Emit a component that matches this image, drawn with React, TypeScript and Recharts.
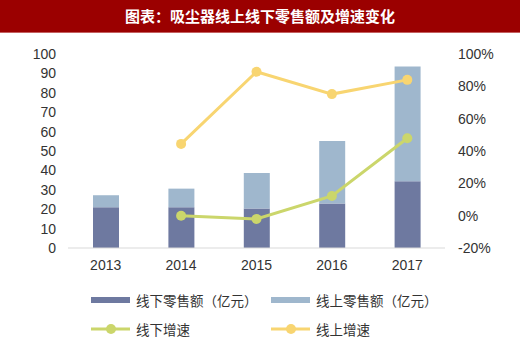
import React from "react";
import { ComposedChart, Bar, Line, XAxis, YAxis } from "recharts";

const years = ["2013", "2014", "2015", "2016", "2017"];
const offlineSales = [21, 21, 20.3, 22.9, 34.4];
const onlineSales = [6.2, 9.6, 18.3, 32.3, 59.1];
const offlineGrowth = [null, 0, -2, 12.2, 47.9];
const onlineGrowth = [null, 44.4, 89, 75.2, 84];
const leftTicks = [0, 10, 20, 30, 40, 50, 60, 70, 80, 90, 100];
const rightTicks = [-20, 0, 20, 40, 60, 80, 100];

const data = years.map((y, i) => ({
  year: y,
  offline: offlineSales[i],
  online: onlineSales[i],
  offG: offlineGrowth[i],
  onG: onlineGrowth[i],
}));

const C_OFF = "#6e79a0";
const C_ON = "#9fb7cd";
const C_OFFG = "#cbd66b";
const C_ONG = "#f8d571";
const FONT = "'Liberation Sans', Arial, sans-serif";
const CJK = "'Noto Sans CJK SC', sans-serif";

const legendItems = [
  { label: "线下零售额（亿元）", color: C_OFF, kind: "bar", x: 91, y: 300 },
  { label: "线上零售额（亿元）", color: C_ON, kind: "bar", x: 271, y: 300 },
  { label: "线下增速", color: C_OFFG, kind: "line", x: 91, y: 329 },
  { label: "线上增速", color: C_ONG, kind: "line", x: 271, y: 329 },
];

export default function App() {
  return (
    <div style={{ position: "absolute", left: 0, top: 0, width: 520, height: 344, background: "#fff" }}>
      <div
        style={{
          position: "absolute", left: 0, top: 0, width: 520, height: 32,
          background: "#9b0000", color: "#fff", fontFamily: CJK, fontWeight: "bold",
          fontSize: 15, lineHeight: "32px", textAlign: "center",
          borderBottom: "1px solid #c46060",
        }}
      >
        图表：吸尘器线上线下零售额及增速变化
      </div>
      <ComposedChart
        width={520}
        height={344}
        data={data}
        margin={{ top: 54, right: 0, bottom: 66, left: 0 }}
        barSize={26}
      >
        <XAxis
          dataKey="year"
          axisLine={{ stroke: "#d9d9d9" }}
          tickLine={false}
          tick={{ fill: "#333", fontSize: 14, fontFamily: FONT }}
          tickMargin={6}
          height={30}
        />
        <YAxis
          yAxisId="left"
          width={68}
          domain={[0, 100]}
          ticks={leftTicks}
          interval={0}
          axisLine={false}
          tickLine={false}
          tickSize={0}
          tickMargin={12}
          tick={{ fill: "#333", fontSize: 14, fontFamily: FONT }}
        />
        <YAxis
          yAxisId="right"
          orientation="right"
          width={75}
          domain={[-20, 100]}
          ticks={rightTicks}
          interval={0}
          axisLine={false}
          tickLine={false}
          tickSize={0}
          tickMargin={13}
          tickFormatter={(v) => `${v}%`}
          tick={{ fill: "#333", fontSize: 14, fontFamily: FONT, textAnchor: "start" }}
        />
        <Bar yAxisId="left" dataKey="offline" stackId="s" fill={C_OFF} isAnimationActive={false} />
        <Bar yAxisId="left" dataKey="online" stackId="s" fill={C_ON} isAnimationActive={false} />
        <Line
          yAxisId="right"
          dataKey="offG"
          stroke={C_OFFG}
          strokeWidth={3}
          dot={{ r: 5, fill: C_OFFG, stroke: C_OFFG, strokeWidth: 0 }}
          isAnimationActive={false}
        />
        <Line
          yAxisId="right"
          dataKey="onG"
          stroke={C_ONG}
          strokeWidth={3}
          dot={{ r: 5, fill: C_ONG, stroke: C_ONG, strokeWidth: 0 }}
          isAnimationActive={false}
        />
      </ComposedChart>
      {legendItems.map((it) => (
        <div
          key={it.label}
          style={{ position: "absolute", left: it.x, top: it.y - 10, height: 20, display: "flex", alignItems: "center" }}
        >
          <svg width={40} height={20}>
            {it.kind === "bar" ? (
              <rect x={0} y={7} width={39} height={6} fill={it.color} />
            ) : (
              <g>
                <line x1={0} y1={10} x2={39} y2={10} stroke={it.color} strokeWidth={3} />
                <circle cx={20} cy={10} r={5} fill={it.color} />
              </g>
            )}
          </svg>
          <span style={{ marginLeft: 5, fontFamily: CJK, fontSize: 13.5, color: "#333", whiteSpace: "nowrap" }}>
            {it.label}
          </span>
        </div>
      ))}
    </div>
  );
}
